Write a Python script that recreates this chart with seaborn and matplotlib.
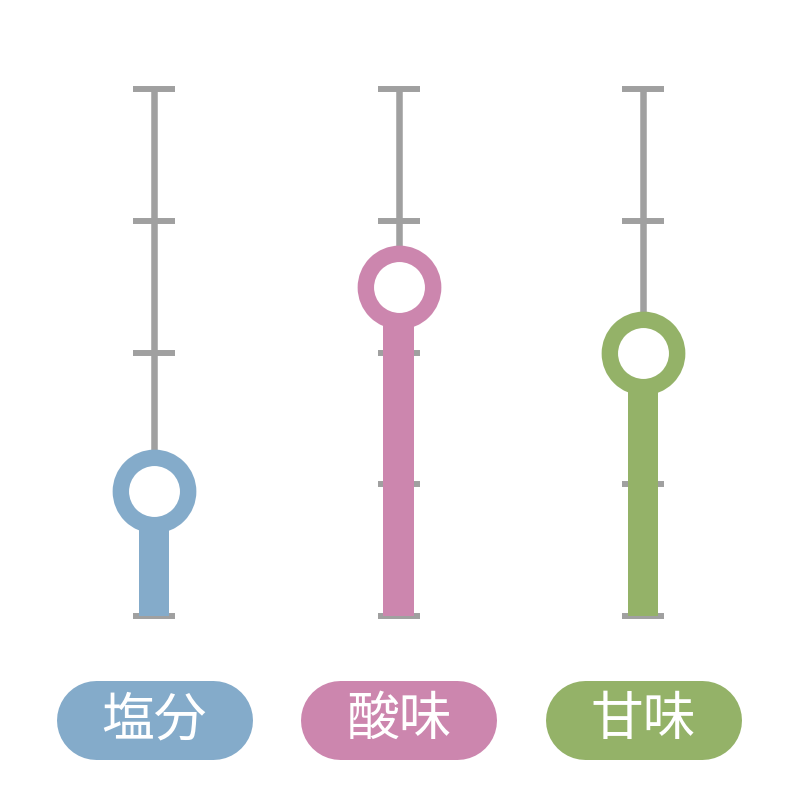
import matplotlib
matplotlib.use("Agg")
import matplotlib.pyplot as plt
import pandas as pd
import seaborn as sns

# Chart data
categories = ["塩分", "酸味", "甘味"]
values = [0.95, 2.5, 2.0]
tick_levels = [0, 1, 2, 3, 4]
colors = ["#84abca", "#cc86ae", "#94b268"]
GRAY = "#a0a0a0"

sns.set_theme(style="white")
plt.rcParams["font.family"] = ["Noto Sans CJK JP", "DejaVu Sans"]

df = pd.DataFrame({"taste": categories, "value": values})

fig = plt.figure(figsize=(8, 8), dpi=100)
ax = fig.add_axes([0, 0, 1, 1])

xs = list(range(len(categories)))

# Gray gauge: vertical line + tick caps
for x in xs:
    ax.vlines(x, tick_levels[0], tick_levels[-1], color=GRAY, lw=4.7, zorder=1)
    ax.hlines(tick_levels, x - 0.086, x + 0.086, color=GRAY, lw=4.3, zorder=1)

# Colored bars
sns.barplot(data=df, x="taste", y="value", hue="taste", palette=colors,
            width=0.123, legend=False, ax=ax, zorder=2, saturation=1,
            linewidth=0)
ax.set_xlim(-0.63, 2.642)
ax.set_ylim(-1.397, 4.676)
ax.axis("off")

# Ring markers at the value
for x, v, c in zip(xs, values, colors):
    ax.scatter([x], [v], s=2350, facecolor="white", edgecolor=c,
               linewidth=11.8, zorder=3)

# Pill labels in pixel space (thick line with round caps = stadium shape)
ov = fig.add_axes([0, 0, 1, 1], facecolor="none")
ov.set_xlim(0, 800)
ov.set_ylim(0, 800)
ov.axis("off")
for x, name, c in zip(xs, categories, colors):
    px = ax.transData.transform((x, 0))[0]
    ov.plot([px - 58.5, px + 58.5], [80.5, 80.5], color=c, lw=79 * 0.72,
            solid_capstyle="round")
    ov.text(px, 80.5, name, ha="center", va="center", color="white",
            fontsize=38)

fig.savefig("out.png", dpi=100)
